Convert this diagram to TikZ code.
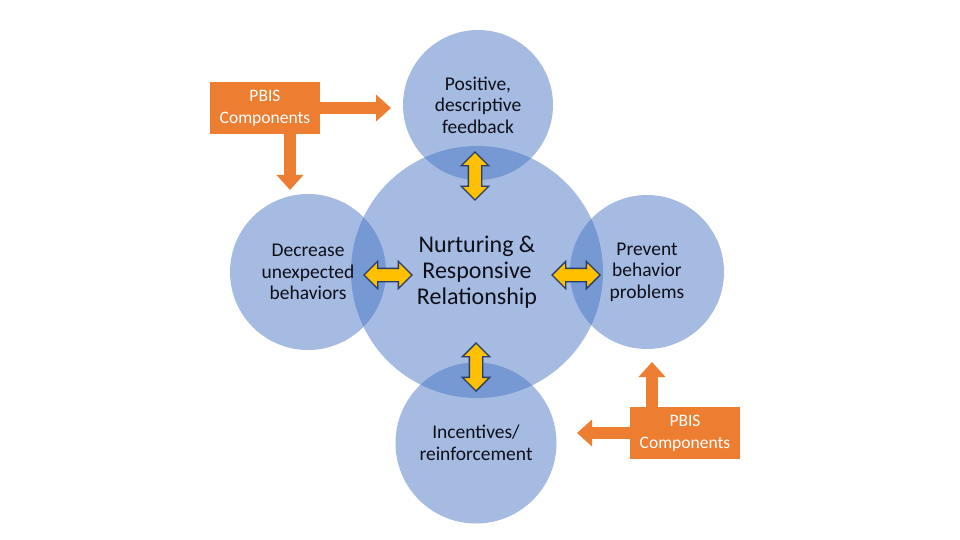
\documentclass[tikz,border=0pt]{standalone}
\usepackage{fontspec}
\setmainfont{Carlito}
\usetikzlibrary{shapes.arrows,arrows.meta}
\definecolor{bubblue}{RGB}{68,114,196}
\definecolor{pbisorange}{RGB}{237,125,49}
\definecolor{dblyellow}{RGB}{255,192,0}
\definecolor{dblline}{RGB}{40,62,105}
\definecolor{txt}{RGB}{15,15,25}
\tikzset{
  bub/.style={circle, fill=bubblue, fill opacity=0.48, text opacity=1, text=txt,
    minimum size=#1, inner sep=0pt, align=center},
  sidetext/.style={font=\fontsize{19.5}{21.5}\selectfont},
  pbisbox/.style={rectangle, fill=pbisorange, text=white, minimum width=110pt,
    minimum height=52pt, inner sep=0pt, align=center, font=\fontsize{17.5}{21.5}\selectfont},
  pbisarrow/.style={draw=pbisorange, line width=12pt, -{Triangle[width=26pt,length=15pt]}},
  dblarrow/.style={double arrow, draw=dblline, fill=dblyellow, line width=1.4pt,
    inner sep=6pt, double arrow head extend=7pt, minimum height=48pt, minimum width=0pt}
}
\begin{document}
\begin{tikzpicture}[x=1pt,y=-1pt]
\path[use as bounding box, fill=white] (0,0) rectangle (960,540);
% circles
\node[bub=252pt, font=\fontsize{24}{26}\selectfont] (center) at (477,272) {Nurturing \&\\Responsive\\Relationship};
\node[bub=150pt, sidetext] (top) at (478,105) {Positive,\\descriptive\\feedback};
\node[bub=156pt, sidetext] (left) at (308,272) {Decrease\\unexpected\\behaviors};
\node[bub=154pt, sidetext] (right) at (647,272) {Prevent\\behavior\\problems};
\node[bub=161pt, sidetext] (bottom) at (476,443) {Incentives/\\reinforcement};
% yellow double arrows
\node[dblarrow, shape border rotate=90] (da1) at (475,176) {};
\node[dblarrow] (da2) at (388,275) {};
\node[dblarrow] (da3) at (576,275) {};
\node[dblarrow, shape border rotate=90] (da4) at (476,367) {};
% PBIS boxes
\node[pbisbox] (p1) at (265,108) {PBIS\\Components};
\node[pbisbox] (p2) at (685,433) {PBIS\\Components};
\coordinate (p1r) at (391,108);
\coordinate (p1d) at (290,190);
\coordinate (p2u) at (652,362);
\coordinate (p2l) at (577,433);
\draw[pbisarrow] (p1.east) -- (p1r);
\draw[pbisarrow] (p1d |- p1.south) -- (p1d);
\draw[pbisarrow] (p2u |- p2.north) -- (p2u);
\draw[pbisarrow] (p2.west) -- (p2l);
\end{tikzpicture}
\end{document}
